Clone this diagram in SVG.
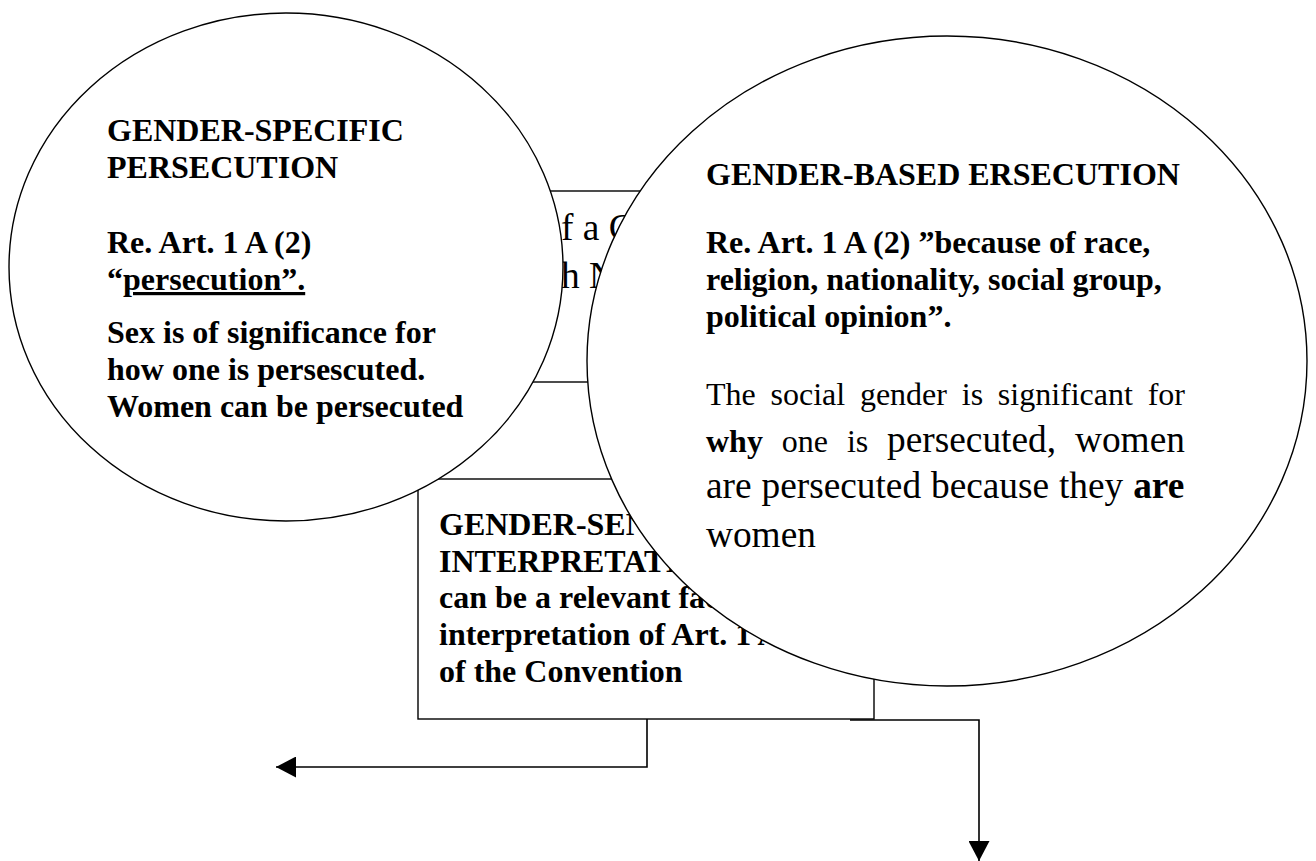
<svg xmlns="http://www.w3.org/2000/svg" width="1316" height="861" viewBox="0 0 1316 861">
<style>
  text { font-family: "Liberation Serif", "Times New Roman", serif; fill: #000; }
  .b { font-weight: bold; font-size: 32px; }
  .r { font-size: 32px; }
  .rl { font-size: 37.33px; }
  .shape { fill: #fff; stroke: #000; stroke-width: 1.4; }
  .conn { fill: none; stroke: #000; stroke-width: 1.6; }
</style>
<defs>
  <marker id="arrow" viewBox="0 0 20 21" refX="20" refY="10.5" markerWidth="20" markerHeight="21" markerUnits="userSpaceOnUse" orient="auto">
    <path d="M0,0 L20,10.5 L0,21 Z" fill="#000"/>
  </marker>
</defs>
<rect width="1316" height="861" fill="#fff"/>

<g id="node-top-box">
  <rect class="shape" x="418" y="191" width="456" height="191"/>
  <text class="rl" x="561" y="240">f a C</text>
  <text class="rl" x="561" y="288">h N</text>
</g>

<g id="node-interpretation">
  <rect class="shape" x="418" y="479" width="456" height="240"/>
  <text class="b" x="439" y="535">GENDER-SEN</text>
  <text class="b" x="439" y="572">INTERPRETATI</text>
  <text class="b" x="439" y="608">can be a relevant fac</text>
  <text class="b" x="439" y="645">interpretation of Art. 1 A</text>
  <text class="b" x="439" y="682">of the Convention</text>
</g>

<g id="node-gender-specific">
  <ellipse class="shape" cx="286" cy="267" rx="277" ry="254"/>
  <text class="b" x="107" y="141">GENDER-SPECIFIC</text>
  <text class="b" x="107" y="178">PERSECUTION</text>
  <text class="b" x="107" y="253">Re. Art. 1 A (2)</text>
  <text class="b" x="107" y="290">“<tspan text-decoration="underline">persecution”.</tspan></text>
  <text class="b" x="107" y="343">Sex is of significance for</text>
  <text class="b" x="107" y="380">how one is persescuted.</text>
  <text class="b" x="107" y="417">Women can be persecuted</text>
</g>

<g id="node-gender-based">
  <ellipse class="shape" cx="947" cy="361" rx="360" ry="325"/>
  <text class="b" x="706" y="185">GENDER-BASED ERSECUTION</text>
  <text class="b" x="706" y="253">Re. Art. 1 A (2) ”because of race,</text>
  <text class="b" x="706" y="290">religion, nationality, social group,</text>
  <text class="b" x="706" y="327">political opinion”.</text>
  <text class="r" y="405"><tspan x="706">The</tspan><tspan x="770.5">social</tspan><tspan x="859.9">gender</tspan><tspan x="961.8">is</tspan><tspan x="997.8">significant</tspan><tspan x="1147.7">for</tspan></text>
  <text class="r" y="452"><tspan x="706" font-weight="bold">why</tspan><tspan x="781.8">one</tspan><tspan x="846.9">is</tspan><tspan x="887.1" font-size="37.33px">persecuted,</tspan><tspan x="1075" font-size="37.33px">women</tspan></text>
  <text class="rl" y="498"><tspan x="706">are</tspan><tspan x="761.5">persecuted</tspan><tspan x="931">because</tspan><tspan x="1059">they</tspan><tspan x="1133.2" font-weight="bold">are</tspan></text>
  <text class="rl" x="706" y="547">women</text>
</g>

<g id="connectors">
  <polyline class="conn" points="647,719 647,767 276,767" marker-end="url(#arrow)"/>
  <polyline class="conn" points="850,720 979,720 979,861" marker-end="url(#arrow)"/>
</g>
</svg>
